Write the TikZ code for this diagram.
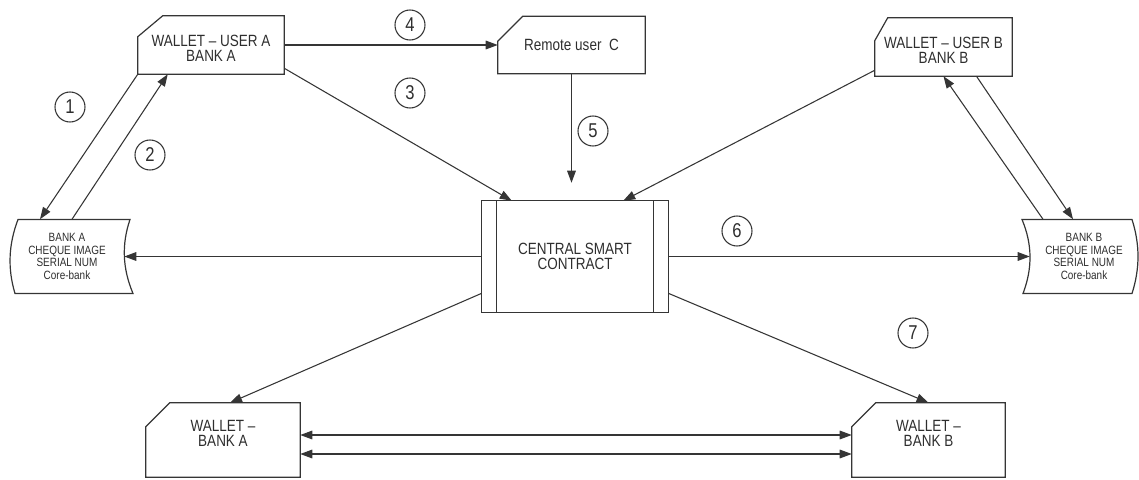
\documentclass[tikz,border=0pt]{standalone}
\usepackage{fontspec}
\setmainfont{Liberation Sans}[FakeStretch=0.83]
\usepackage{xcolor}
\usepackage{tikz}
\usetikzlibrary{arrows.meta, positioning, calc}
\definecolor{kline}{HTML}{353535}
\definecolor{ktext}{HTML}{2E2E2E}

% cut top-left corner outline around a named node
\newcommand{\cutbox}[3]{%
  \draw[boxline] ($(#1.north west)+(0,#3)$) -- ($(#1.north west)+(#2,0)$)
    -- (#1.north east) -- (#1.south east) -- (#1.south west) -- cycle;}

\begin{document}
\begin{tikzpicture}[x=0.75pt, y=-0.75pt,
  boxline/.style={draw=kline, line width=0.9pt},
  flow/.style={draw=kline, line width=0.8pt, -{Triangle[length=9pt, width=6.5pt]}},
  twoway/.style={flow, {Triangle[length=9pt, width=6.5pt]}-{Triangle[length=9pt, width=6.5pt]}},
  label box/.style={inner sep=0pt, text=ktext, align=center,
    font=\fontsize{12.2}{11.5}\selectfont},
  bank box/.style={inner sep=0pt, text=ktext, align=center,
    font=\fontsize{9}{9.6}\selectfont, minimum width=#1, minimum height=55.5pt},
  num/.style={draw=kline, line width=0.8pt, circle, minimum size=22.5pt, inner sep=0pt,
    text=ktext, font=\fontsize{15}{15}\selectfont}]

  \useasboundingbox (0,0) rectangle (1139,479);

  %% Wallets of the users and the remote user
  \node[label box, minimum width=109.5pt, minimum height=43.5pt, text height=25pt, text depth=0pt] (ua) at (211,45)
    {WALLET -- USER A\\BANK A};
  \node[label box, minimum width=110.25pt, minimum height=42.75pt] (rc) at (571.5,45)
    {Remote user\ \ C};
  \node[label box, minimum width=102.75pt, minimum height=43.5pt, text height=25pt, text depth=0pt] (ub) at (943.5,47)
    {WALLET -- USER B\\BANK B};
  \cutbox{ua}{25}{21}
  \cutbox{rc}{25}{25}
  \cutbox{ub}{13}{23}

  %% Central smart contract
  \node[label box, minimum width=139.5pt, minimum height=83.25pt] (cc) at (575,256.5)
    {CENTRAL SMART\\CONTRACT};
  \draw[boxline] (cc.north west) rectangle (cc.south east);
  \draw[boxline] ($(cc.north west)+(15,0)$) -- ($(cc.south west)+(15,0)$);
  \draw[boxline] ($(cc.north east)+(-15,0)$) -- ($(cc.south east)+(-15,0)$);

  %% Core-bank stores
  \node[bank box=85.5pt] (bka) at (67,256.5)
    {BANK A\\CHEQUE IMAGE\\SERIAL NUM\\Core-bank};
  \node[bank box=81pt] (bkb) at (1084,256.5)
    {BANK B\\CHEQUE IMAGE\\SERIAL NUM\\Core-bank};
  \draw[boxline, shift={(bka.center)}] (-49,-37) -- (63,-37)
    .. controls (54.5,-12) and (55.5,12) .. (66,37) -- (-52,37)
    .. controls (-59.5,12) and (-58.5,-12) .. (-49,-37) -- cycle;
  \draw[boxline, shift={(bkb.center)}] (-62,-37) -- (48,-37)
    .. controls (56,-12) and (56,12) .. (48,37) -- (-61,37)
    .. controls (-51.5,12) and (-51.5,-12) .. (-62,-37) -- cycle;

  %% Bank wallets
  \node[label box, minimum width=115.5pt, minimum height=55.5pt, text depth=10pt] (wa) at (223,440)
    {WALLET --\\BANK A};
  \node[label box, minimum width=114.75pt, minimum height=55.5pt, text depth=10pt] (wb) at (928.5,440)
    {WALLET --\\BANK B};
  \cutbox{wa}{24}{24}
  \cutbox{wb}{24}{24}

  %% Step numbers
  \foreach \n/\x/\y in {1/70/107, 2/150/155, 3/410/93, 4/410/25, 5/593/131, 6/737/231, 7/913/333}{
    \node[num] (s\n) at (\x,\y) {\n};
  }

  %% Connectors
  \coordinate (c5) at ($(cc.north)+(0,-18)$);
  \draw[flow] (ua.south west) -- ($(bka.north)+(-27,0)$);
  \draw[flow] ($(bka.north)+(5,0)$) -- ($(ua.south west)+(30,0)$);
  \draw[flow] (ua.east) -- (rc.west);
  \draw[flow] ($(ua.south east)+(0,-6)$) -- ($(cc.north west)+(30,0)$);
  \draw[flow] (rc.south) -- (rc.south |- c5);
  \draw[flow] ($(ub.south west)+(0,-6)$) -- ($(cc.north east)+(-45,0)$);
  \draw[flow] ($(bkb.north)+(-41,0)$) -- (ub.south);
  \draw[flow] ($(ub.south)+(33,0)$) -- ($(bkb.north)+(-11,0)$);
  \draw[flow] (cc.west) -- (bka.east);
  \draw[flow] (cc.east) -- (bkb.west);
  \draw[flow] ($(cc.south west)+(0,-19)$) -- ($(wa.north)+(7,0)$);
  \draw[flow] ($(cc.south east)+(0,-19)$) -- (wb.north);
  \draw[twoway] ($(wa.east)+(0,-5)$) -- ($(wb.west)+(0,-5)$);
  \draw[twoway] ($(wa.east)+(0,14)$) -- ($(wb.west)+(0,14)$);

\end{tikzpicture}
\end{document}
